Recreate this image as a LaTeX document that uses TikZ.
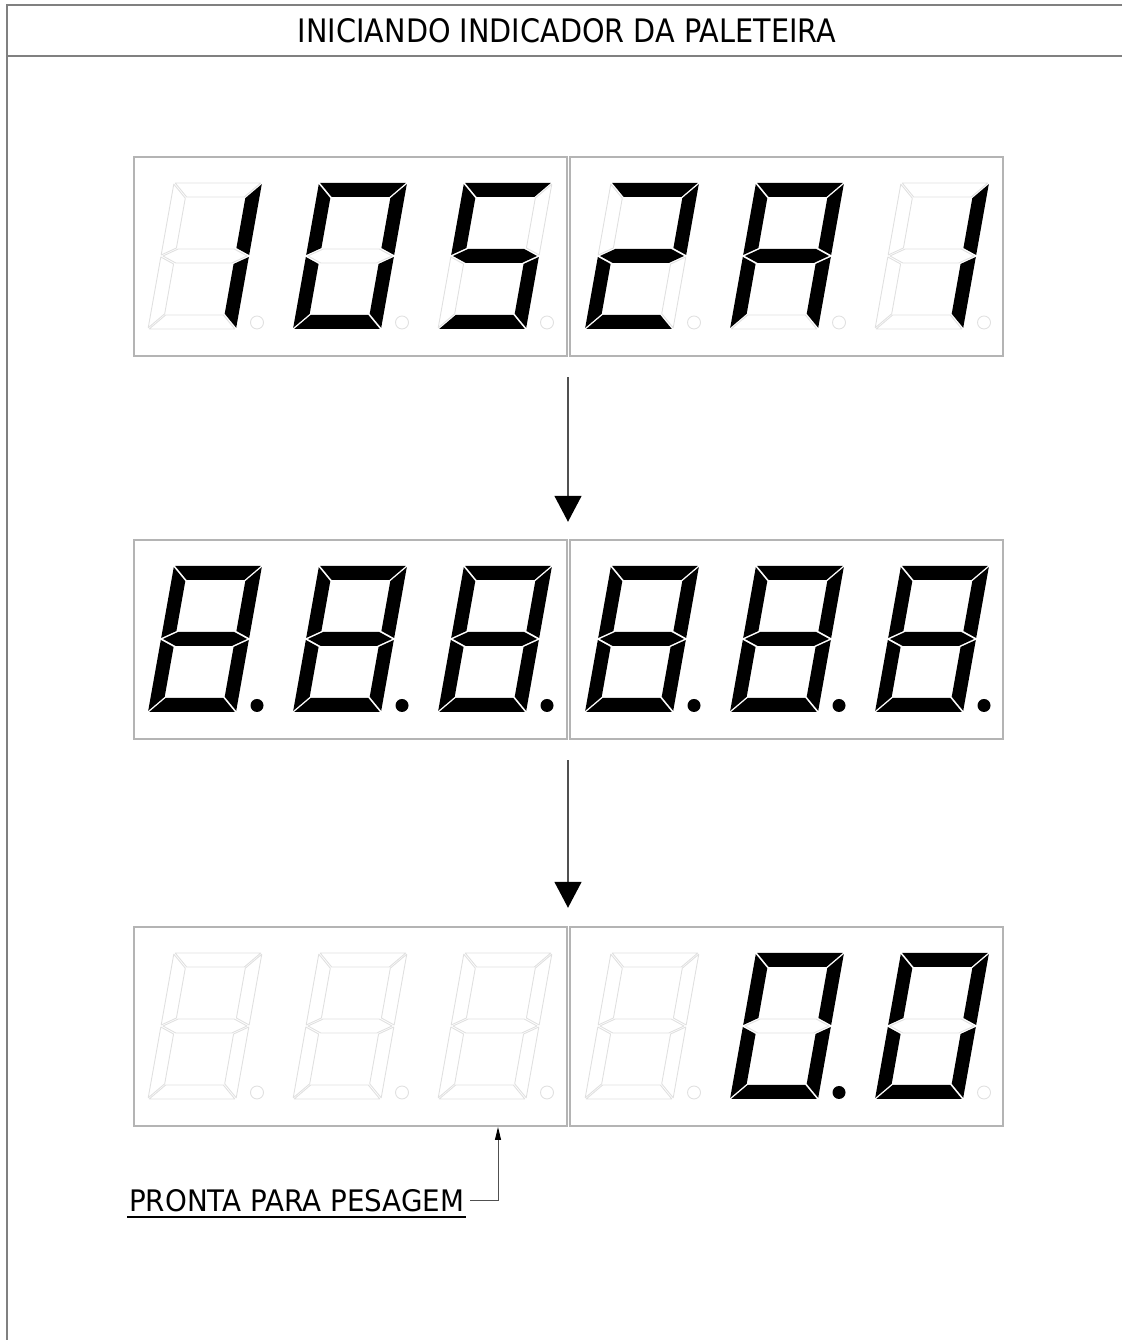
\documentclass[tikz,border=0pt]{standalone}
\usepackage{fontspec}
\usepackage{graphicx}
\setmainfont{DejaVu Sans}
\usetikzlibrary{arrows.meta}
\definecolor{framegray}{HTML}{808080}
\definecolor{boxgray}{HTML}{B4B4B4}
\definecolor{offgray}{HTML}{E0E0E0}
\definecolor{arrowgray}{HTML}{505050}
\tikzset{
  segon/.style={fill=black,draw=none},
  segoff/.style={draw=offgray,line width=0.9pt,fill=none,line join=round},
  st/.code={\ifnum#1=1 \pgfkeysalso{segon}\else\pgfkeysalso{segoff}\fi},
  framerule/.style={draw=framegray,line width=2pt},
  dispbox/.style={draw=boxgray,line width=1.5pt,minimum width=433pt,minimum height=199pt,inner sep=0pt},
  rowspan/.style={minimum width=868pt,minimum height=199pt,inner sep=0pt},
  bigarrow/.style={draw=arrowgray,line width=1.5pt,-{Triangle[width=27pt,length=26pt,color=black]}},
  leader/.style={draw=arrowgray,line width=1pt,-{Triangle[width=6pt,length=13pt,color=black]}},
  underl/.style={draw=black,line width=1.6pt},
}
% seven-segment digit: #1 x, #2 y (pixel-from-top of digit bottom), #3..#9 segments a..g
\newcommand\sevdig[9]{%
  \begin{scope}[shift={(#1,1340-#2)},xslant=0.178]
    \path[st=#3] (1.2,146) -- (86.8,146) -- (72.8,132) -- (15.2,132) -- cycle;
    \path[st=#4] (88,144.8) -- (88,74) -- (74,81) -- (74,130.8) -- cycle;
    \path[st=#5] (88,72) -- (88,1.2) -- (74,15.2) -- (74,65) -- cycle;
    \path[st=#6] (1.2,0) -- (86.8,0) -- (72.8,14) -- (15.2,14) -- cycle;
    \path[st=#7] (0,1.2) -- (0,72) -- (14,65) -- (14,15.2) -- cycle;
    \path[st=#8] (0,74) -- (0,144.8) -- (14,130.8) -- (14,81) -- cycle;
    \path[st=#9] (2,73) -- (16,80) -- (72,80) -- (86,73) -- (72,66) -- (16,66) -- cycle;
  \end{scope}}
\newcommand\ledot[3]{\path[st=#3] (#1+109,1340-#2+6.5) circle[radius=6.5];}
\begin{document}
\begin{tikzpicture}[x=1pt,y=1pt]
\useasboundingbox (0,0) rectangle (1122,1340);
% frame
\draw[framerule] (1122,1335) -- (7,1335) -- (7,0);
\draw[framerule] (7,1284) -- (1122,1284);
\node[inner sep=0pt] (title) at (567,1340-30.5) {\resizebox{538pt}{24pt}{INICIANDO INDICADOR DA PALETEIRA}};
% rows
\node[rowspan] (r1) at (568,1340-256.5) {};
\node[rowspan] (r2) at (568,1340-639.5) {};
\node[rowspan] (r3) at (568,1340-1026.5) {};
\node[dispbox] (r1a) at (350.5,1340-256.5) {};
\node[dispbox] (r1b) at (786.5,1340-256.5) {};
\node[dispbox] (r2a) at (350.5,1340-639.5) {};
\node[dispbox] (r2b) at (786.5,1340-639.5) {};
\node[dispbox] (r3a) at (350.5,1340-1026.5) {};
\node[dispbox] (r3b) at (786.5,1340-1026.5) {};
% row 1: 1 0 5 2 A 1
\sevdig{148}{329}{0}{1}{1}{0}{0}{0}{0}\ledot{148}{329}{0}
\sevdig{293}{329}{1}{1}{1}{1}{1}{1}{0}\ledot{293}{329}{0}
\sevdig{438}{329}{1}{0}{1}{1}{0}{1}{1}\ledot{438}{329}{0}
\sevdig{585}{329}{1}{1}{0}{1}{1}{0}{1}\ledot{585}{329}{0}
\sevdig{730}{329}{1}{1}{1}{0}{1}{1}{1}\ledot{730}{329}{0}
\sevdig{875}{329}{0}{1}{1}{0}{0}{0}{0}\ledot{875}{329}{0}
% row 2: 8.8.8.8.8.8.
\sevdig{148}{712}{1}{1}{1}{1}{1}{1}{1}\ledot{148}{712}{1}
\sevdig{293}{712}{1}{1}{1}{1}{1}{1}{1}\ledot{293}{712}{1}
\sevdig{438}{712}{1}{1}{1}{1}{1}{1}{1}\ledot{438}{712}{1}
\sevdig{585}{712}{1}{1}{1}{1}{1}{1}{1}\ledot{585}{712}{1}
\sevdig{730}{712}{1}{1}{1}{1}{1}{1}{1}\ledot{730}{712}{1}
\sevdig{875}{712}{1}{1}{1}{1}{1}{1}{1}\ledot{875}{712}{1}
% row 3: blank x4, 0.0
\sevdig{148}{1099}{0}{0}{0}{0}{0}{0}{0}\ledot{148}{1099}{0}
\sevdig{293}{1099}{0}{0}{0}{0}{0}{0}{0}\ledot{293}{1099}{0}
\sevdig{438}{1099}{0}{0}{0}{0}{0}{0}{0}\ledot{438}{1099}{0}
\sevdig{585}{1099}{0}{0}{0}{0}{0}{0}{0}\ledot{585}{1099}{0}
\sevdig{730}{1099}{1}{1}{1}{1}{1}{1}{0}\ledot{730}{1099}{1}
\sevdig{875}{1099}{1}{1}{1}{1}{1}{1}{0}\ledot{875}{1099}{0}
% arrows
\draw[bigarrow,shorten <=21pt,shorten >=18pt] (r1.south) -- (r2.north);
\draw[bigarrow,shorten <=21pt,shorten >=19pt] (r2.south) -- (r3.north);
% label
\node[inner sep=0pt,anchor=south west] (lbl) at (129,1340-1212) {\resizebox{335pt}{22pt}{PRONTA PARA PESAGEM}};
\draw[underl] ([shift={(-2pt,-5pt)}]lbl.south west) -- ([shift={(2pt,-5pt)}]lbl.south east);
\coordinate (tip3) at (498,1340-1127);
\draw[leader] ([xshift=6pt]lbl.east) -| (tip3);
\end{tikzpicture}
\end{document}
